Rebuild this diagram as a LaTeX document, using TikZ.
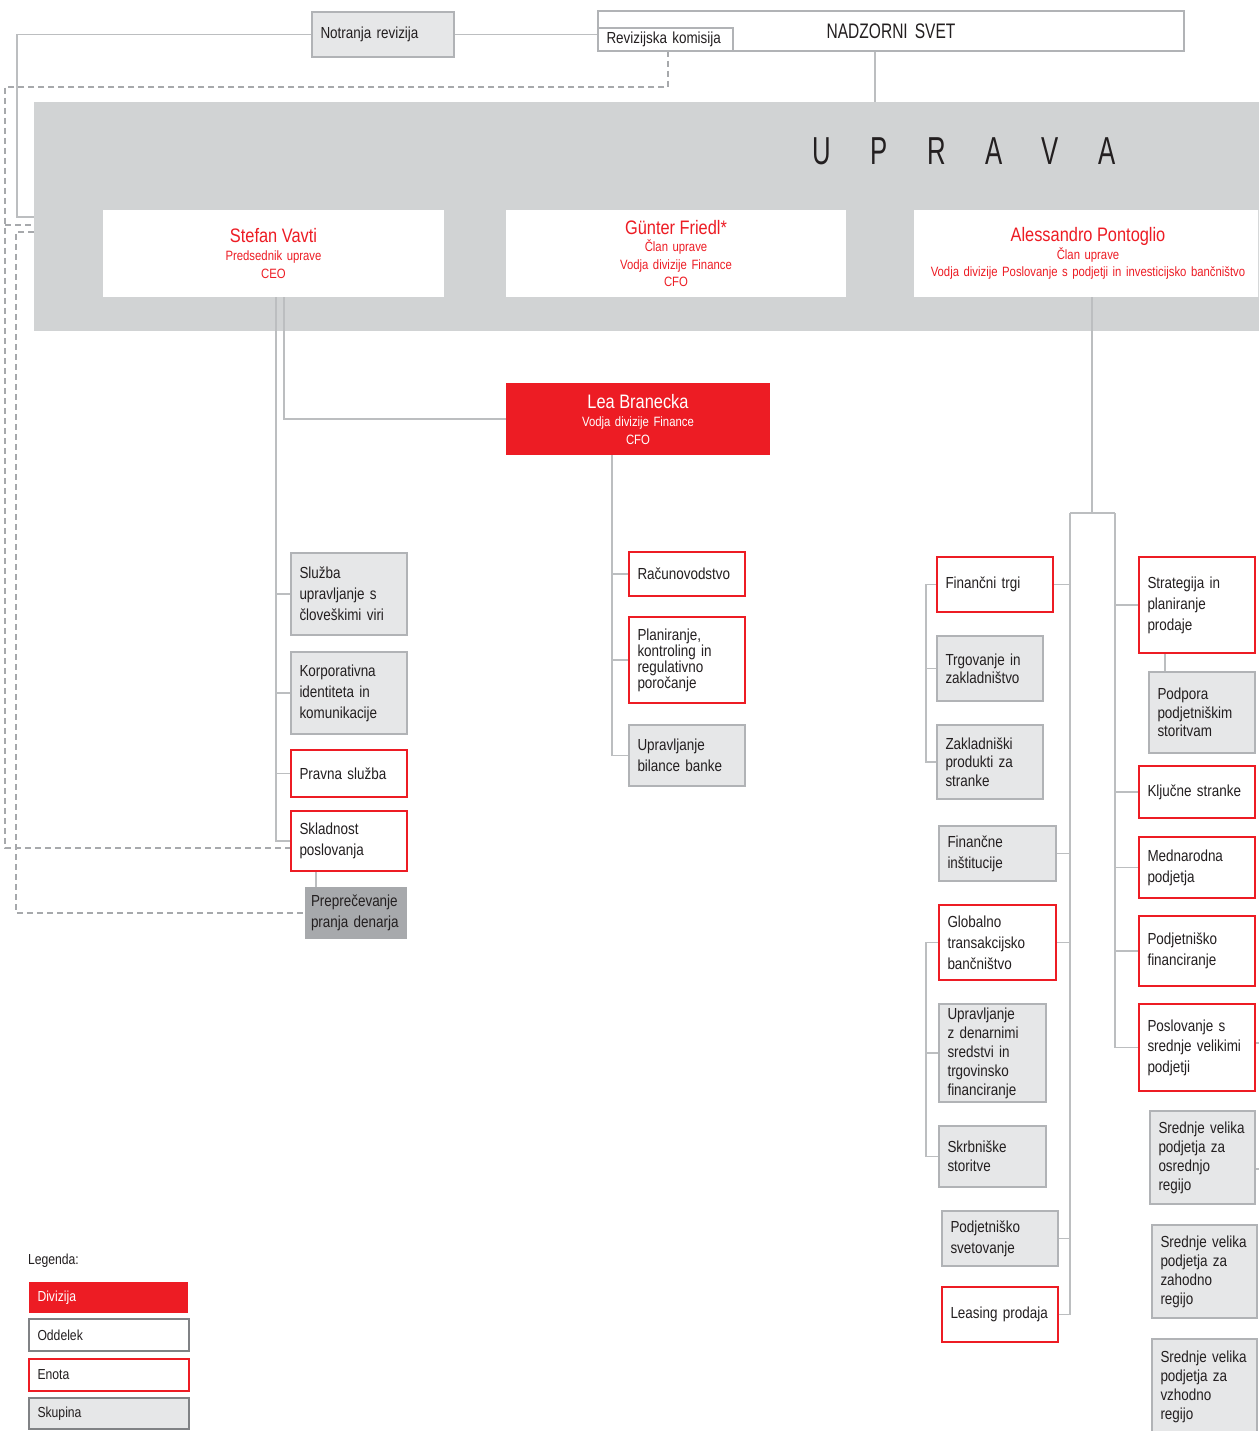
\documentclass[tikz,border=0pt]{standalone}
\usepackage{fontspec}
\setmainfont{Liberation Sans}[FakeStretch=0.84]
\newfontfamily\uprfont{Liberation Sans}[FakeStretch=0.66]
\newfontfamily\nadfont{Liberation Sans}[FakeStretch=0.74]
\hyphenpenalty=10000 \exhyphenpenalty=10000
\definecolor{redA}{HTML}{ED1C24}
\definecolor{txt}{HTML}{231F20}
\definecolor{lgray}{HTML}{E6E7E8}
\definecolor{ugray}{HTML}{D1D3D4}
\definecolor{dgray}{HTML}{A7A9AC}
\definecolor{bgray}{HTML}{B1B3B6}
\definecolor{lcol}{HTML}{BCBEC0}
\definecolor{dcol}{HTML}{A7A9AC}
\definecolor{lgbord}{HTML}{808285}
\pgfdeclarelayer{bg}
\pgfdeclarelayer{lines}
\pgfsetlayers{bg,lines,main}
\newcommand{\namefont}{\fontsize{19.5}{22}\selectfont}
\newcommand{\subfont}{\fontsize{13.5}{17.5}\selectfont}
\newcommand{\fs}[1]{\fontsize{16}{#1}\selectfont}
\newcommand{\legfont}{\fontsize{14.5}{17}\selectfont}
\newcommand{\bx}[7]{%
  \pgfmathsetmacro\mybw{#5-#3}%
  \pgfmathsetmacro\mybh{#6-#4}%
  \pgfmathsetmacro\mytw{#5-#3-17}%
  \pgfmathsetmacro\mycx{(#3+#5)/2}%
  \pgfmathsetmacro\mycy{(#4+#6)/2}%
  \node[minimum width=\mybw pt, minimum height=\mybh pt, text width=\mytw pt, #2] (#1) at (\mycx,\mycy) {#7};}
\begin{document}
\begin{tikzpicture}[x=1pt,y=-1pt,
  every node/.style={inner sep=0pt, outer sep=0pt},
  bx/.style={rectangle, inner xsep=8.5pt, inner ysep=0pt, align=left, text=txt, font=\fs{20.5}},
  gbox/.style={bx, fill=lgray, draw=bgray, line width=1.4pt},
  rbox/.style={bx, fill=white, draw=redA, line width=1.4pt},
  wbox/.style={bx, fill=white, draw=bgray, line width=1.6pt},
  dbox/.style={bx, fill=dgray},
  hbox/.style={rectangle, inner xsep=8.5pt, fill=white, align=center, text=redA, font=\subfont},
  lbox/.style={hbox, fill=redA, text=white},
  ubg/.style={rectangle, fill=ugray},
  legd/.style={bx, fill=redA, text=white, font=\legfont},
  lego/.style={bx, fill=white, draw=lgbord, line width=1.8pt, font=\legfont},
  lege/.style={bx, fill=white, draw=redA, line width=1.8pt, font=\legfont},
  legs/.style={bx, fill=lgray, draw=lgbord, line width=1.8pt, font=\legfont},
  ln/.style={draw=lcol, line width=1.6pt},
  dsh/.style={draw=dcol, line width=1.2pt, dash pattern=on 6pt off 4pt}]
\clip (0,0) rectangle (1258,1431);
\begin{pgfonlayer}{bg}
\fill[white] (0,0) rectangle (1258,1431);
\bx{upr}{ubg}{34}{102}{1262}{331}{}
\end{pgfonlayer}
\node[font={\uprfont\fontsize{39}{39}\selectfont}, text=txt] (uprt) at (964,151)
  {U\hspace{39.5pt}P\hspace{39.5pt}R\hspace{39.5pt}A\hspace{39.5pt}V\hspace{39.5pt}A};

% top boxes
\bx{notr}{gbox}{312}{12}{454}{57}{Notranja revizija}
\bx{nad}{wbox, align=center, font={\nadfont\fontsize{21}{21}\selectfont}}{598}{11}{1184}{51}{\raisebox{-2pt}{NADZORNI SVET}}
\bx{rev}{wbox}{598}{28}{733}{51}{Revizijska komisija}

% board members
\bx{ste}{hbox}{103}{210}{444}{297}{{\namefont Stefan Vavti}\\[1pt] Predsednik uprave\\ CEO}
\bx{gun}{hbox}{506}{210}{846}{297}{{\namefont Günter Friedl*}\\ Član uprave\\ Vodja divizije Finance\\ CFO}
\bx{ale}{hbox}{914}{210}{1262}{297}{{\namefont Alessandro Pontoglio}\\ Član uprave\\ Vodja divizije Poslovanje s podjetji in investicijsko bančništvo}
\bx{lea}{lbox}{506}{383}{770}{455}{{\namefont Lea Branecka}\\[1pt] Vodja divizije Finance\\ CFO}

% CEO column
\bx{slu}{gbox, font=\fs{21}}{291}{553}{407}{635}{Služba\\upravljanje s\\človeškimi viri}
\bx{kor}{gbox, font=\fs{21}}{291}{652}{407}{734}{Korporativna\\identiteta in\\komunikacije}
\bx{pra}{rbox}{291}{750}{407}{797}{Pravna služba}
\bx{skl}{rbox, font=\fs{21}}{291}{811}{407}{871}{Skladnost\\poslovanja}
\bx{pre}{dbox, font=\fs{21}, inner xsep=6pt, text width=90pt}{305}{887}{407}{939}{Preprečevanje\\pranja denarja}

% CFO column
\bx{rac}{rbox}{629}{552}{745}{596}{Računovodstvo}
\bx{pla}{rbox, font=\fs{16}}{629}{617}{745}{703}{Planiranje,\\kontroling in\\regulativno\\poročanje}
\bx{ubb}{gbox, font=\fs{21}}{629}{725}{745}{786}{Upravljanje\\bilance banke}

% left branch
\bx{ftr}{rbox}{937}{557}{1053}{612}{Finančni trgi}
\bx{trg}{gbox, font=\fs{18}}{937}{636}{1043}{701}{Trgovanje in\\zakladništvo}
\bx{zak}{gbox, font=\fs{18.5}}{937}{725}{1043}{799}{Zakladniški\\produkti za\\stranke}
\bx{fin}{gbox, font=\fs{21}}{939}{826}{1056}{881}{Finančne\\inštitucije}
\bx{glo}{rbox, font=\fs{21}}{939}{905}{1056}{980}{Globalno\\transakcijsko\\bančništvo}
\bx{upd}{gbox, font=\fs{19}}{939}{1004}{1046}{1102}{Upravljanje\\z denarnimi\\sredstvi in\\trgovinsko\\financiranje}
\bx{skr}{gbox, font=\fs{19}}{939}{1126}{1046}{1187}{Skrbniške\\storitve}
\bx{psv}{gbox, font=\fs{21}}{942}{1211}{1058}{1266}{Podjetniško\\svetovanje}
\bx{lea2}{rbox}{942}{1287}{1058}{1342}{Leasing prodaja}

% right branch
\bx{str}{rbox, font=\fs{21}}{1139}{557}{1255}{653}{Strategija in\\planiranje\\prodaje}
\bx{pod}{gbox, font=\fs{18.5}}{1149}{672}{1255}{753}{Podpora\\podjetniškim\\storitvam}
\bx{klj}{rbox}{1139}{766}{1255}{818}{Ključne stranke}
\bx{med}{rbox, font=\fs{21}}{1139}{837}{1255}{898}{Mednarodna\\podjetja}
\bx{pfi}{rbox, font=\fs{21}}{1139}{916}{1255}{986}{Podjetniško\\financiranje}
\bx{pos}{rbox, font=\fs{20.5}}{1139}{1004}{1255}{1091}{Poslovanje s\\srednje velikimi\\podjetji}
\bx{sv1}{gbox, font=\fs{19}}{1150}{1111}{1255}{1204}{Srednje velika\\podjetja za\\osrednjo\\regijo}
\bx{sv2}{gbox, font=\fs{19}}{1152}{1225}{1257}{1318}{Srednje velika\\podjetja za\\zahodno\\regijo}
\bx{sv3}{gbox, font=\fs{19}}{1152}{1339}{1257}{1434}{Srednje velika\\podjetja za\\vzhodno\\regijo}
\coordinate (edge) at (1262,0);

% legend
\node[anchor=west, font=\legfont, text=txt] (legt) at (28,1261) {Legenda:};
\bx{ldiv}{legd}{29}{1282}{188}{1313}{Divizija}
\bx{lodd}{lego}{29}{1319}{189}{1351}{Oddelek}
\bx{leno}{lege}{29}{1359}{189}{1391}{Enota}
\bx{lsku}{legs}{29}{1398}{189}{1429}{Skupina}

% connectors
\begin{pgfonlayer}{lines}
\draw[ln] (notr.west) -- (notr.west -| 17,0) -- (17,217) -- (17,217 -| upr.west);
\draw[ln] (notr.east) -- (notr.east -| rev.west);
\draw[ln] (nad.south -| 875,0) -- (upr.north -| 875,0);
\draw[dsh] (rev.south -| 668,0) -- (668,87) -- (5,87) -- (5,848) -- (5,848 -| skl.west);
\draw[dsh] (5,225) -- (5,225 -| upr.west);
\draw[dsh] (0,232 -| upr.west) -- (16,232) -- (16,913) -- (16,913 -| pre.west);

\draw[ln] (ste.south -| 276,0) |- (skl.west);
\draw[ln] (ste.south -| 284,0) |- (lea.west);
\foreach \n in {slu,kor,pra} \draw[ln] (\n.west) -- (\n.west -| 276,0);
\draw[ln] (skl.south -| 316,0) -- (pre.north -| 316,0);

\draw[ln] (lea.south -| 612,0) |- (ubb.west);
\foreach \n in {rac,pla} \draw[ln] (\n.west) -- (\n.west -| 612,0);

\draw[ln] (ale.south -| 1092,0) -- (1092,513);
\draw[ln] (1070,513) -- (1115,513);
\draw[ln] (1070,513) |- (lea2.east);
\draw[ln] (1115,513) |- (pos.west);
\foreach \n in {ftr,fin,glo,psv} \draw[ln] (\n.east) -- (\n.east -| 1070,0);
\draw[ln] (ftr.west) -- (ftr.west -| 926,0) |- (zak.west);
\draw[ln] (trg.west) -- (trg.west -| 926,0);
\draw[ln] (glo.west) -- (glo.west -| 926,0) |- (skr.west);
\draw[ln] (upd.west) -- (upd.west -| 926,0);
\foreach \n in {str,klj,med,pfi} \draw[ln] (\n.west) -- (\n.west -| 1115,0);
\draw[ln] (str.south -| 1165,0) -- (pod.north -| 1165,0);
\draw[ln] (pos.east |- 0,1043) -- (edge |- 0,1043);
\draw[ln] (sv1.east |- 0,1169) -- (edge |- 0,1169);
\end{pgfonlayer}
\end{tikzpicture}
\end{document}
